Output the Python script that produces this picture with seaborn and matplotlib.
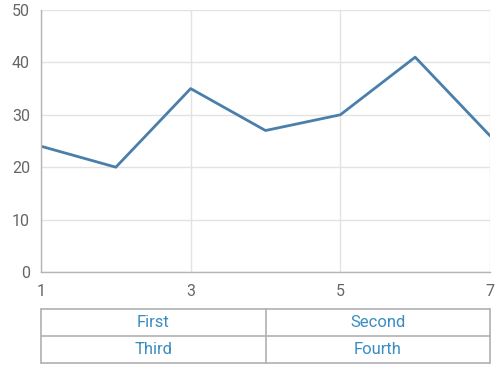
import matplotlib
matplotlib.use("Agg")
import matplotlib.pyplot as plt
import seaborn as sns
import pandas as pd

x_vals = [1, 2, 3, 4, 5, 6, 7]
y_vals = [24, 20, 35, 27, 30, 41, 26]
x_ticks = [1, 3, 5, 7]
y_ticks = [0, 10, 20, 30, 40, 50]
row1_labels = ["First", "Second"]
row2_labels = ["Third", "Fourth"]
group_bounds = [1, 4, 7]

sns.set_style("white")
plt.rcParams['font.family'] = ['Roboto', 'DejaVu Sans']

df = pd.DataFrame({"x": x_vals, "y": y_vals})

fig = plt.figure(figsize=(5, 3.76), dpi=100)
ax = fig.add_axes([41/500, 1-272/376, 449/500, 262/376])
sns.lineplot(data=df, x="x", y="y", ax=ax, color="#4a7fab", linewidth=2)
ax.set_xlim(1, 7)
ax.set_ylim(0, 50)
ax.set_xticks(x_ticks)
ax.set_yticks(y_ticks)
ax.set_xlabel("")
ax.set_ylabel("")
ax.grid(True, color="#e3e3e3", linewidth=1)
ax.set_axisbelow(True)
for s in ["top", "right"]:
    ax.spines[s].set_visible(False)
for s in ["left", "bottom"]:
    ax.spines[s].set_color("#b5b5b5")
    ax.spines[s].set_linewidth(1)
ax.tick_params(axis="both", colors="#b5b5b5", labelcolor="#666666", labelsize=11.5, length=5, width=1)
ax.tick_params(axis="y", pad=3)
ax.tick_params(axis="x", pad=4)

# multi-level label table
tax = fig.add_axes([41/500, 1-363/376, 449/500, 54/376])
tax.set_xlim(1, 7)
tax.set_ylim(0, 2)
tax.axis("off")
bc = "#b0b0b0"
for yy in [0, 1, 2]:
    tax.plot([1, 7], [yy, yy], color=bc, linewidth=1.2, clip_on=False)
for xx in group_bounds:
    tax.plot([xx, xx], [0, 2], color=bc, linewidth=1.2, clip_on=False)
for i, lab in enumerate(row1_labels):
    cx = (group_bounds[i] + group_bounds[i+1]) / 2
    tax.text(cx, 1.5, lab, ha="center", va="center", color="#3a8cc0", fontsize=12)
for i, lab in enumerate(row2_labels):
    cx = (group_bounds[i] + group_bounds[i+1]) / 2
    tax.text(cx, 0.5, lab, ha="center", va="center", color="#3a8cc0", fontsize=12)

fig.savefig("out.png", dpi=100)
